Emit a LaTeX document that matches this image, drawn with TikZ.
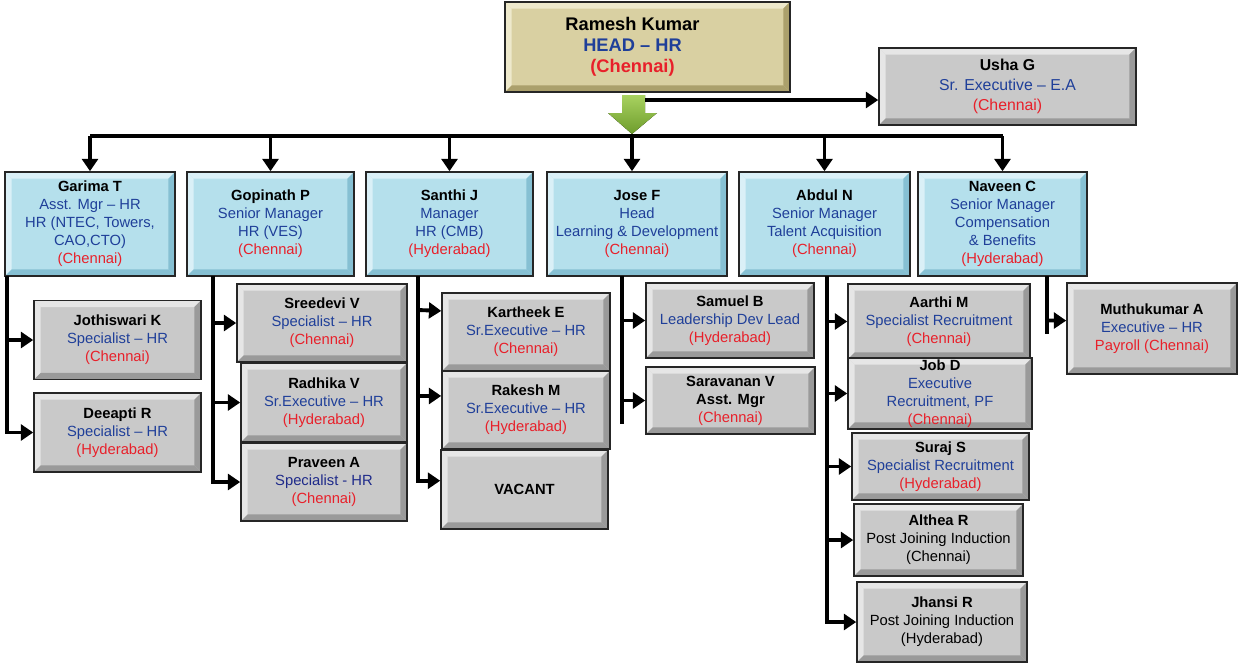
\documentclass[tikz,border=0pt]{standalone}
\usepackage{fontspec}
\setmainfont{Liberation Sans}
\usetikzlibrary{arrows.meta, positioning}
\definecolor{hrblue}{HTML}{1F3F99}
\definecolor{hrnavy}{HTML}{1E2A8A}
\definecolor{hrred}{HTML}{E8202A}
\definecolor{cardgrey}{HTML}{C9C9C9}
\definecolor{greyhi}{HTML}{E6E6E6}
\definecolor{greylo}{HTML}{9A9A9A}
\definecolor{cardblue}{HTML}{B5E0EC}
\definecolor{bluehi}{HTML}{DAF0F7}
\definecolor{bluelo}{HTML}{86C0D3}
\definecolor{cardtan}{HTML}{D9D0A2}
\definecolor{tanhi}{HTML}{EEE9CC}
\definecolor{tanlo}{HTML}{ABA06C}
\definecolor{arrowhi}{HTML}{A8D260}
\definecolor{arrowlo}{HTML}{6E9C2C}

\newcommand\tblue[1]{\textcolor{hrblue}{#1}}
\newcommand\tred[1]{\textcolor{hrred}{#1}}
% bevelled edge inside a card: light top/left, dark bottom/right
\newcommand\bevel[2]{%
  \fill[#1] (path picture bounding box.north west) -- (path picture bounding box.north east)
    -- ([shift={(-3.8pt,-3.8pt)}]path picture bounding box.north east)
    -- ([shift={(3.8pt,-3.8pt)}]path picture bounding box.north west) -- cycle;
  \fill[#1] (path picture bounding box.north west) -- (path picture bounding box.south west)
    -- ([shift={(3.8pt,3.8pt)}]path picture bounding box.south west)
    -- ([shift={(3.8pt,-3.8pt)}]path picture bounding box.north west) -- cycle;
  \fill[#2] (path picture bounding box.south west) -- (path picture bounding box.south east)
    -- ([shift={(-3.8pt,3.8pt)}]path picture bounding box.south east)
    -- ([shift={(3.8pt,3.8pt)}]path picture bounding box.south west) -- cycle;
  \fill[#2] (path picture bounding box.north east) -- (path picture bounding box.south east)
    -- ([shift={(-3.8pt,3.8pt)}]path picture bounding box.south east)
    -- ([shift={(-3.8pt,-3.8pt)}]path picture bounding box.north east) -- cycle;
}

\tikzset{
  card/.style={draw=black!85, line width=0.9pt, align=center, inner sep=1pt,
    font=\fontsize{8.4}{10.2}\selectfont},
  greycard/.style={card, fill=cardgrey, path picture={\bevel{greyhi}{greylo}}},
  bluecard/.style={card, fill=cardblue, path picture={\bevel{bluehi}{bluelo}}},
  tancard/.style={card, fill=cardtan, path picture={\bevel{tanhi}{tanlo}}},
  trunk/.style={line width=2.2pt},
  conn/.style={line width=2.2pt, -{Triangle[length=7pt,width=9pt]}},
}

\begin{document}
\begin{tikzpicture}[x=0.02cm, y=-0.02cm]
\useasboundingbox (0,0) rectangle (1242,667);

% Head and assistant
\node[tancard, minimum width=5.7cm, minimum height=1.8cm,
  font=\bfseries\fontsize{10.4}{12}\selectfont] (head) at (647.5,47)
  {\begin{tabular}{@{}c@{\hspace{0.6cm}}}Ramesh Kumar\\\tblue{HEAD – HR}\\\tred{(Chennai)}\end{tabular}};
\node[greycard, minimum width=5.14cm, minimum height=1.54cm,
  font=\fontsize{9}{11.2}\selectfont] (usha) at (1007.5,86.5)
  {\textbf{Usha G}\\\tblue{Sr. Executive – E.A}\\\tred{(Chennai)}};

% Green down arrow below the head
\fill[top color=arrowhi, bottom color=arrowlo] (622,95) -- (645,95) -- (645,113) -- (657,113)
  -- (632,134) -- (608,113) -- (622,113) -- cycle;
\coordinate (hd) at (645,100);
\coordinate (bus) at (632,136);
\draw[conn] (hd) -- (hd -| usha.west);

% First level
\node[bluecard, minimum width=3.4cm, minimum height=2.08cm] (garima) at (90,224)
  {\textbf{Garima T}\\\tblue{Asst. Mgr – HR}\\\tblue{HR (NTEC, Towers,}\\\tblue{CAO,CTO)}\\\tred{(Chennai)}};
\node[bluecard, minimum width=3.34cm, minimum height=2.08cm] (gopinath) at (270.5,224)
  {\textbf{Gopinath P}\\\tblue{Senior Manager}\\\tblue{HR (VES)}\\\tred{(Chennai)}};
\node[bluecard, minimum width=3.34cm, minimum height=2.08cm] (santhi) at (449.5,224)
  {\textbf{Santhi J}\\\tblue{Manager}\\\tblue{HR (CMB)}\\\tred{(Hyderabad)}};
\node[bluecard, minimum width=3.6cm, minimum height=2.08cm] (jose) at (637,224)
  {\textbf{Jose F}\\\tblue{Head}\\\tblue{Learning \& Development}\\\tred{(Chennai)}};
\node[bluecard, minimum width=3.42cm, minimum height=2.08cm] (abdul) at (824.5,224)
  {\textbf{Abdul N}\\\tblue{Senior Manager}\\\tblue{Talent Acquisition}\\\tred{(Chennai)}};
\node[bluecard, minimum width=3.38cm, minimum height=2.08cm] (naveen) at (1002.5,224)
  {\textbf{Naveen C}\\\tblue{Senior Manager}\\\tblue{Compensation}\\\tblue{\& Benefits}\\\tred{(Hyderabad)}};

\draw[trunk] (garima.north |- bus) -- (naveen.north |- bus);
\foreach \n in {garima, gopinath, santhi, abdul, naveen}
  \draw[conn] (\n.north |- bus) -- (\n.north);
\draw[conn] (bus |- jose.north) ++(0,-36) -- (bus |- jose.north);

% Garima's team
\node[greycard, minimum width=3.34cm, minimum height=1.58cm] (jothi) at (117.5,340)
  {\textbf{Jothiswari K}\\\tblue{Specialist – HR}\\\tred{(Chennai)}};
\node[greycard, minimum width=3.34cm, minimum height=1.58cm] (deeapti) at (117.5,432.5)
  {\textbf{Deeapti R}\\\tblue{Specialist – HR}\\\tred{(Hyderabad)}};
\coordinate (gT) at (7,276);
\draw[conn] (gT) |- (deeapti.west);
\draw[conn] (gT |- jothi.west) -- (jothi.west);

% Gopinath's team
\node[greycard, minimum width=3.4cm, minimum height=1.56cm] (sreedevi) at (322,323)
  {\textbf{Sreedevi V}\\\tblue{Specialist – HR}\\\tred{(Chennai)}};
\node[greycard, minimum width=3.32cm, minimum height=1.58cm] (radhika) at (324,402.5)
  {\textbf{Radhika V}\\\tblue{Sr.Executive – HR}\\\tred{(Hyderabad)}};
\node[greycard, minimum width=3.32cm, minimum height=1.56cm] (praveen) at (324,482)
  {\textbf{Praveen A}\\\textcolor{hrnavy}{Specialist - HR}\\\tred{(Chennai)}};
\coordinate (pT) at (213,276);
\draw[conn] (pT) |- (praveen.west);
\foreach \n in {sreedevi, radhika}
  \draw[conn] (pT |- \n.west) -- (\n.west);

% Santhi's team
\node[greycard, minimum width=3.36cm, minimum height=1.56cm] (kartheek) at (526,332)
  {\textbf{Kartheek E}\\\tblue{Sr.Executive – HR}\\\tred{(Chennai)}};
\node[greycard, minimum width=3.36cm, minimum height=1.56cm] (rakesh) at (526,410)
  {\textbf{Rakesh M}\\\tblue{Sr.Executive – HR}\\\tred{(Hyderabad)}};
\node[greycard, minimum width=3.34cm, minimum height=1.58cm] (vacant) at (524.5,489.5)
  {\textbf{VACANT}};
\coordinate (sT) at (418,276);
\draw[conn] (sT) |- ([yshift=5pt]vacant.west);
\draw[conn] (sT |- kartheek.west) ++(0,-22) -- ([yshift=12pt]kartheek.west);
\draw[conn] (sT |- rakesh.west) ++(0,-14) -- ([yshift=8pt]rakesh.west);

% Jose's team
\node[greycard, minimum width=3.36cm, minimum height=1.5cm] (samuel) at (730,320.5)
  {\textbf{Samuel B}\\\tblue{Leadership Dev Lead}\\\tred{(Hyderabad)}};
\node[greycard, minimum width=3.38cm, minimum height=1.34cm] (saravanan) at (730.5,400.5)
  {\textbf{Saravanan V}\\\textbf{Asst. Mgr}\\\tred{(Chennai)}};
\coordinate (jT) at (622,276);
\draw[trunk] (jT) -- ++(0,148);
\foreach \n in {samuel, saravanan}
  \draw[conn] (jT |- \n.west) -- (\n.west);

% Abdul's team
\node[greycard, minimum width=3.64cm, minimum height=1.5cm] (aarthi) at (939,321.5)
  {\textbf{Aarthi M}\\\tblue{Specialist Recruitment}\\\tred{(Chennai)}};
\node[greycard, minimum width=3.68cm, minimum height=1.42cm] (job) at (940,393.5)
  {\textbf{Job D}\\\tblue{Executive}\\\tblue{Recruitment, PF}\\\tred{(Chennai)}};
\node[greycard, minimum width=3.54cm, minimum height=1.34cm] (suraj) at (940.5,466.5)
  {\textbf{Suraj S}\\\tblue{Specialist Recruitment}\\\tred{(Hyderabad)}};
\node[greycard, minimum width=3.38cm, minimum height=1.44cm] (althea) at (938.5,540)
  {\textbf{Althea R}\\Post Joining Induction\\(Chennai)};
\node[greycard, minimum width=3.4cm, minimum height=1.6cm] (jhansi) at (942,622)
  {\textbf{Jhansi R}\\Post Joining Induction\\(Hyderabad)};
\coordinate (aT) at (827,276);
\draw[conn] (aT) |- (jhansi.west);
\foreach \n in {aarthi, job, suraj, althea}
  \draw[conn] (aT |- \n.west) -- (\n.west);

% Naveen's team
\node[greycard, minimum width=3.4cm, minimum height=1.82cm] (muthu) at (1152,328.5)
  {\textbf{Muthukumar A}\\\tblue{Executive – HR}\\\tred{Payroll (Chennai)}};
\coordinate (nT) at (1047,276);
\draw[trunk] (nT) -- ++(0,58);
\draw[conn] (nT |- muthu.west) ++(0,-8) -- ([yshift=4.5pt]muthu.west);
\end{tikzpicture}
\end{document}
